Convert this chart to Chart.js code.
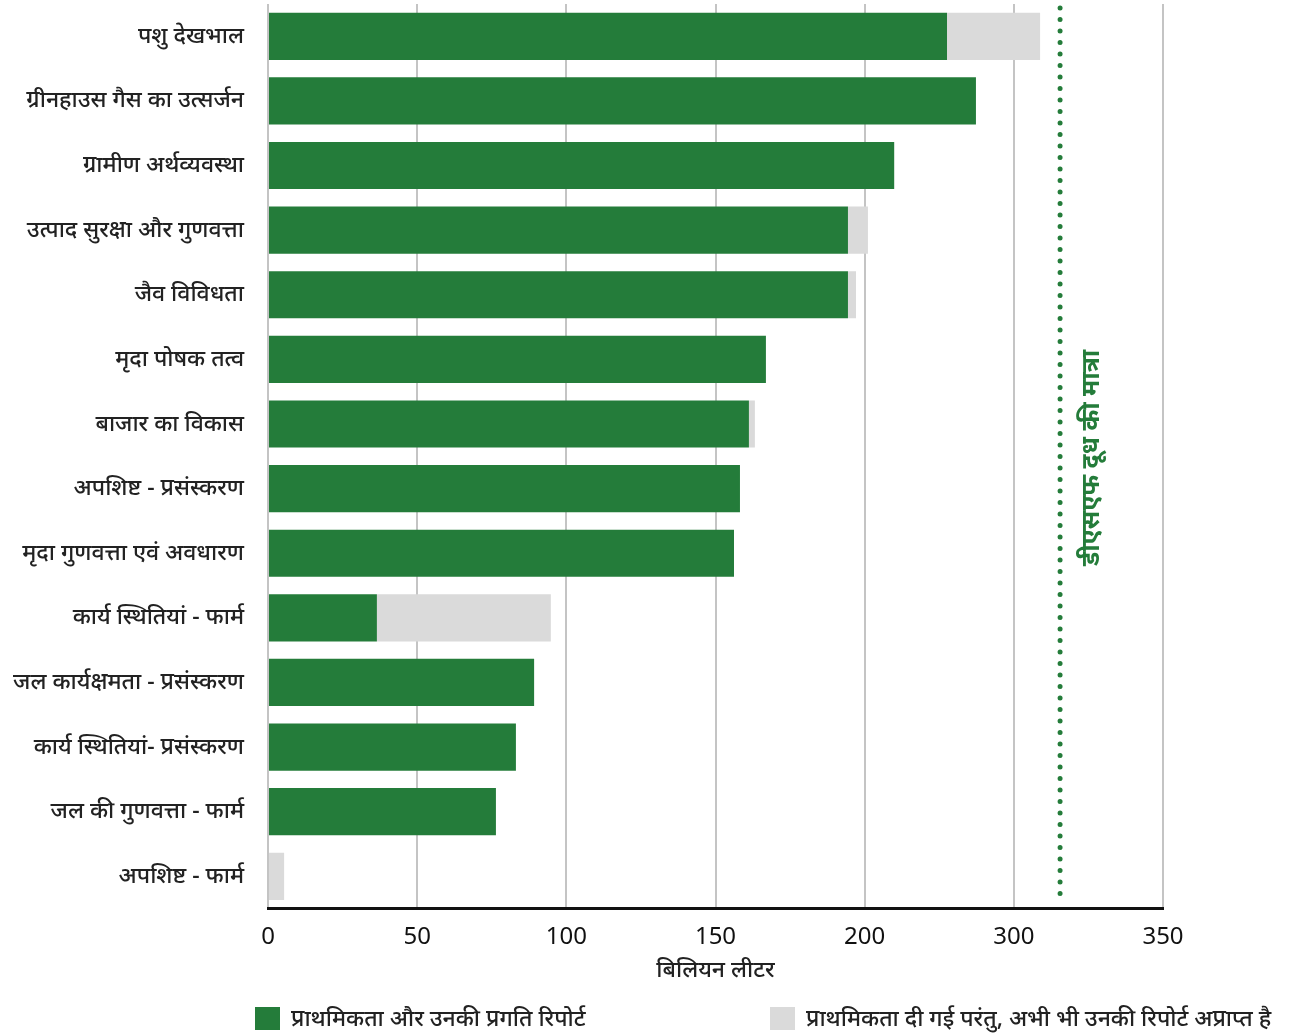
<!DOCTYPE html>
<html>
<head>
<meta charset="utf-8">
<script src="https://cdn.jsdelivr.net/npm/chart.js@4.4.1/dist/chart.umd.min.js"></script>
<style>
  html, body { margin: 0; padding: 0; background: #fff; }
  #wrap { width: 1290px; height: 1036px; }
</style>
</head>
<body>
<div id="wrap"><canvas id="myChart"></canvas></div>
<script>
const categories = ['पशु देखभाल', 'ग्रीनहाउस गैस का उत्सर्जन', 'ग्रामीण अर्थव्यवस्था', 'उत्पाद सुरक्षा और गुणवत्ता',
    'जैव विविधता', 'मृदा पोषक तत्व', 'बाजार का विकास', 'अपशिष्ट - प्रसंस्करण', 'मृदा गुणवत्ता एवं अवधारण',
    'कार्य स्थितियां - फार्म', 'जल कार्यक्षमता - प्रसंस्करण', 'कार्य स्थितियां- प्रसंस्करण', 'जल की गुणवत्ता - फार्म',
    'अपशिष्ट - फार्म'];
const reported = [227.6, 237.3, 209.9, 194.4, 194.4, 166.9, 161.2, 158.2, 156.2, 36.5, 89.2, 83.1, 76.4, 0];
const notReported = [31.2, 0, 0, 6.7, 2.7, 0, 2.0, 0, 0, 58.3, 0, 0, 0, 5.4];
const tickLabels = ['0', '50', '100', '150', '200', '300', '350'];
const dsfVolume = 265.5;
const dsfLabel = 'डीएसएफ दूध की मात्रा';
const seriesNames = ['प्राथमिकता और उनकी प्रगति रिपोर्ट', 'प्राथमिकता दी गई परंतु, अभी भी उनकी रिपोर्ट अप्राप्त है'];

const green = 'rgb(36, 124, 58)';
const grey = 'rgb(218, 218, 218)';
const font = "'Noto Sans', 'Open Sans', sans-serif";

// dotted reference line + its rotated label, and the spread-out legend
const extras = {
    id: 'extras',
    afterDatasetsDraw(chart) {
        const c = chart.ctx;
        const x = chart.scales.x.getPixelForValue(dsfVolume);
        const area = chart.chartArea;
        c.save();
        c.strokeStyle = green;
        c.lineWidth = 5;
        c.lineCap = 'round';
        c.setLineDash([0, 11.5]);
        c.beginPath();
        c.moveTo(x, area.top + 4);
        c.lineTo(x, area.bottom - 6);
        c.stroke();
        c.setLineDash([]);
        c.translate(x + 32, 458);
        c.rotate(-Math.PI / 2);
        c.fillStyle = green;
        c.font = 'bold 25px ' + font;
        c.textAlign = 'center';
        c.textBaseline = 'middle';
        c.fillText(dsfLabel, 0, 0);
        c.restore();
    },
    afterDraw(chart) {
        const c = chart.ctx;
        const items = [[255, green, seriesNames[0]], [770, grey, seriesNames[1]]];
        c.save();
        c.font = '500 23px ' + font;
        c.textBaseline = 'middle';
        items.forEach(([x, col, txt]) => {
            c.fillStyle = col;
            c.fillRect(x, 1007, 25, 23);
            c.fillStyle = '#222';
            c.fillText(txt, x + 36, 1019);
        });
        c.restore();
    }
};

Chart.defaults.font.family = font;
Chart.defaults.color = '#222';

const ctx = document.getElementById('myChart').getContext('2d');
const myChart = new Chart(ctx, {
    type: 'bar',
    data: {
        labels: categories,
        datasets: [
            { label: seriesNames[0], data: reported, backgroundColor: green },
            { label: seriesNames[1], data: notReported, backgroundColor: grey }
        ]
    },
    options: {
        indexAxis: 'y',
        responsive: true,
        maintainAspectRatio: false,
        animation: false,
        categoryPercentage: 1,
        barPercentage: 0.73,
        layout: { padding: { top: 4, right: 127, bottom: 52, left: 0 } },
        plugins: {
            legend: { display: false },
            tooltip: { enabled: false }
        },
        scales: {
            x: {
                stacked: true,
                min: 0,
                max: 300,
                ticks: {
                    stepSize: 50,
                    padding: 14,
                    color: '#111',
                    font: { size: 24 },
                    callback: (v, i) => tickLabels[i]
                },
                grid: { color: '#c4c4c4', lineWidth: 2, drawTicks: false },
                border: { color: '#111', width: 3 },
                title: {
                    display: true,
                    text: 'बिलियन लीटर',
                    color: '#222',
                    font: { size: 23, weight: 500 },
                    padding: { top: -9, bottom: 0 }
                }
            },
            y: {
                stacked: true,
                grid: { display: false, drawTicks: false },
                border: { display: false },
                ticks: { padding: 24, color: '#222', font: { size: 23, weight: 500 } },
                afterFit: (s) => { s.width = 268; s.paddingTop = 0; s.paddingBottom = 0; }
            }
        }
    },
    plugins: [extras]
});
</script>
</body>
</html>
